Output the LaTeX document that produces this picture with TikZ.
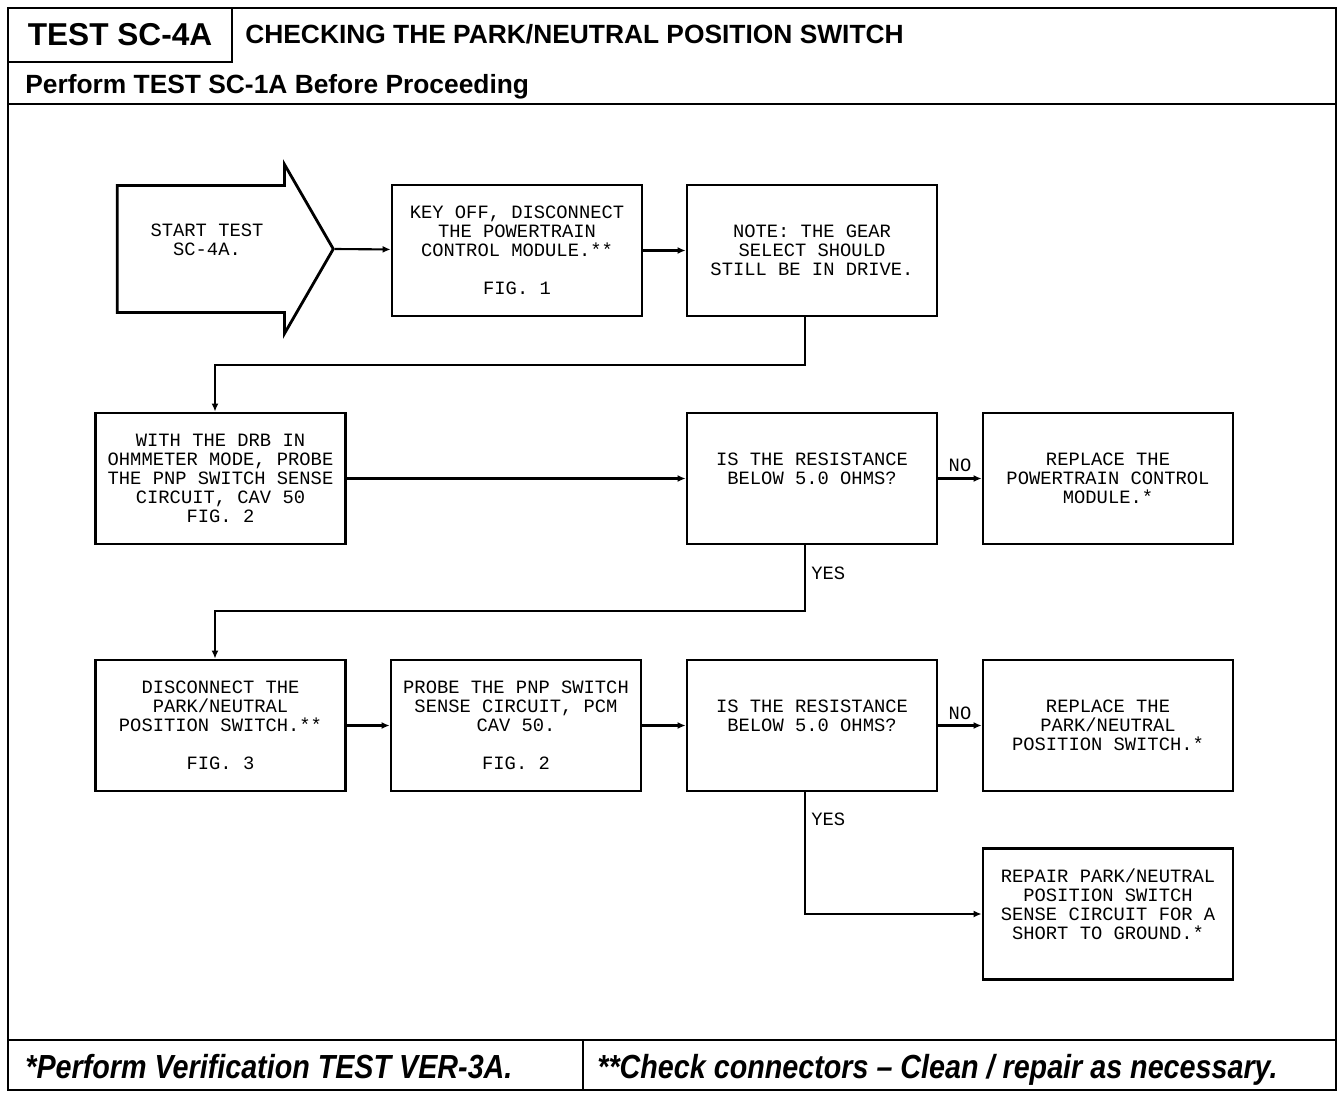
\documentclass[tikz,border=0pt]{standalone}
\usepackage{fontspec}
\setmainfont{Liberation Sans}
\newfontfamily\plotfont{Liberation Mono}
\newfontfamily\footfont[FakeStretch=0.86,Ligatures=TeX]{Liberation Sans}
\usetikzlibrary{shapes.arrows,arrows.meta,positioning,calc}
\newcommand{\boxfont}{\plotfont\fontsize{10.7}{10.8}\selectfont}
\tikzset{
  process/.style={rectangle, draw=black, line width=1.6pt, minimum width=5cm, minimum height=2.62cm, align=center, inner sep=2pt, font=\boxfont},
  startarrow/.style={single arrow, draw=black, line width=1.6pt, single arrow head extend=0.2cm, single arrow tip angle=120, single arrow head indent=0pt, minimum height=4.32cm, minimum width=3.38cm, align=center, inner sep=2pt, font=\boxfont},
  flow/.style={line width=1.2pt, -{Latex[length=1.6mm,width=1.4mm]}},
  answer/.style={font=\boxfont, inner sep=3pt},
  frame/.style={line width=1.6pt},
  headtext/.style={inner sep=0pt, anchor=base west, font=\bfseries\fontsize{15}{17}\selectfont},
  foottext/.style={inner sep=0pt, anchor=base west, font=\footfont\bfseries\itshape\fontsize{19}{21}\selectfont},
}

\begin{document}
\begin{tikzpicture}[x=0.02cm,y=-0.02cm]
  \useasboundingbox (0,0) rectangle (1344,1098);
  % frame and header
  \draw[frame] (8,8) rectangle (1336,1090);
  \node[draw, frame, minimum width=4.48cm, minimum height=1.08cm, inner sep=0pt, font=\bfseries\fontsize{18}{20}\selectfont] (testid) at (120,35) {TEST SC-4A};
  \node[headtext] (title) at (245,44) {CHECKING THE PARK/NEUTRAL POSITION SWITCH};
  \node[headtext] (before) at (25,94) {Perform TEST SC-1A Before Proceeding};
  \draw[frame] (8,104) -- (1336,104);
  % flow chart
  \node[startarrow] (start) at (207,249) {START TEST\\SC-4A.\\~};
  \node[process] (key) at (517,250.5) {KEY OFF, DISCONNECT\\THE POWERTRAIN\\CONTROL MODULE.**\\[10.8pt]FIG. 1};
  \node[process] (note) at (812,250.5) {NOTE: THE GEAR\\SELECT SHOULD\\STILL BE IN DRIVE.};
  \node[process] (drb) at (220.5,478.5) {WITH THE DRB IN\\OHMMETER MODE, PROBE\\THE PNP SWITCH SENSE\\CIRCUIT, CAV 50\\FIG. 2};
  \node[process] (res1) at (812,478.5) {IS THE RESISTANCE\\BELOW 5.0 OHMS?\\~};
  \node[process] (pcm) at (1108,478.5) {REPLACE THE\\POWERTRAIN CONTROL\\MODULE.*};
  \node[process] (disc) at (220.5,725.5) {DISCONNECT THE\\PARK/NEUTRAL\\POSITION SWITCH.**\\[10.8pt]FIG. 3};
  \node[process] (probe) at (516,725.5) {PROBE THE PNP SWITCH\\SENSE CIRCUIT, PCM\\CAV 50.\\[10.8pt]FIG. 2};
  \node[process] (res2) at (812,725.5) {IS THE RESISTANCE\\BELOW 5.0 OHMS?\\~};
  \node[process] (pnp) at (1108,725.5) {REPLACE THE\\PARK/NEUTRAL\\POSITION SWITCH.*};
  \node[process] (repair) at (1108,914) {REPAIR PARK/NEUTRAL\\POSITION SWITCH\\SENSE CIRCUIT FOR A\\SHORT TO GROUND.*\\~};
  \draw[flow] (start.tip) -- (key);
  \draw[flow] (key) -- (note);
  \draw[flow] ([xshift=-0.14cm]note.south) -- ++(0,48) -| ([xshift=-0.11cm]drb.north);
  \draw[flow] (drb) -- (res1);
  \draw[flow] (res1) -- node[answer, above] {NO} (pcm);
  \draw[flow] ([xshift=-0.14cm]res1.south) -- node[answer, right, pos=0.42] {YES} ++(0,66) -| ([xshift=-0.11cm]disc.north);
  \draw[flow] (disc) -- (probe);
  \draw[flow] (probe) -- (res2);
  \draw[flow] (res2) -- node[answer, above] {NO} (pnp);
  \draw[flow] ([xshift=-0.14cm]res2.south) -- node[answer, right, pos=0.22] {YES} ([xshift=-0.14cm]res2.south |- repair) -- (repair);
  % footer
  \draw[frame] (8,1040) -- (1336,1040);
  \draw[frame] (583,1040) -- (583,1090);
  \node[foottext] (verify) at (25,1078) {*Perform Verification TEST VER-3A.};
  \node[foottext] (connect) at (597,1078) {**Check connectors -- Clean / repair as necessary.};
\end{tikzpicture}
\end{document}
